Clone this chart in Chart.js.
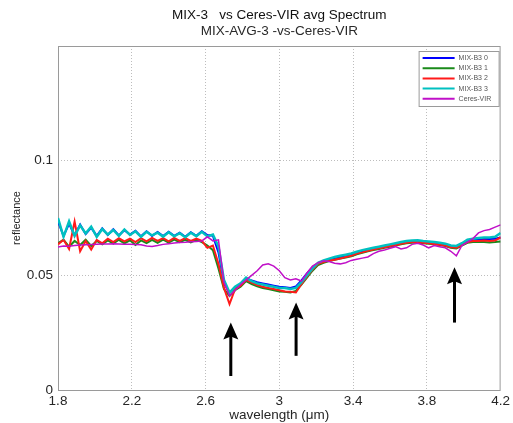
<!DOCTYPE html>
<html>
<head>
<meta charset="utf-8">
<script src="https://cdn.jsdelivr.net/npm/chart.js@4.4.0/dist/chart.umd.min.js"></script>
<style>
  body { margin: 0; background: #fff; }
  #wrap { width: 513px; height: 423px; }
</style>
</head>
<body>
<div id="wrap"><canvas id="spectrum" width="513" height="423"></canvas></div>
<script>
var wavelength = [
  1.80,1.83,1.86,1.89,1.92,1.95,1.98,2.01,2.04,2.07,
  2.10,2.13,2.16,2.19,2.22,2.25,2.28,2.31,2.34,2.37,
  2.40,2.43,2.46,2.49,2.52,2.55,2.58,2.61,2.64,2.67,
  2.70,2.73,2.76,2.79,2.82,2.85,2.88,2.91,2.94,2.97,
  3.00,3.03,3.06,3.09,3.12,3.15,3.18,3.21,3.24,3.27,
  3.30,3.33,3.36,3.39,3.42,3.45,3.48,3.51,3.54,3.57,
  3.60,3.63,3.66,3.69,3.72,3.75,3.78,3.81,3.84,3.87,
  3.90,3.93,3.96,3.99,4.02,4.05,4.08,4.11,4.14,4.17,
  4.20];

var mixB3_0 = [
  0.0735,0.0672,0.0725,0.0675,0.0721,0.0680,0.0708,0.0672,0.0705,0.0676,
  0.0701,0.0674,0.0697,0.0678,0.0694,0.0670,0.0692,0.0672,0.0689,0.0671,
  0.0690,0.0672,0.0686,0.0668,0.0688,0.0672,0.0692,0.0676,0.0672,0.0600,
  0.0465,0.0425,0.0445,0.0460,0.0485,0.0478,0.0470,0.0465,0.0460,0.0455,
  0.0450,0.0448,0.0445,0.0452,0.0478,0.0508,0.0535,0.0552,0.0562,0.0570,
  0.0576,0.0581,0.0586,0.0591,0.0598,0.0605,0.0610,0.0615,0.0620,0.0625,
  0.0630,0.0635,0.0640,0.0645,0.0647,0.0648,0.0645,0.0643,0.0640,0.0637,
  0.0633,0.0625,0.0623,0.0636,0.0650,0.0655,0.0657,0.0658,0.0658,0.0660,
  0.0665];

var mixB3_1 = [
  0.0640,0.0655,0.0625,0.0650,0.0632,0.0655,0.0628,0.0650,0.0635,0.0652,
  0.0638,0.0655,0.0640,0.0653,0.0632,0.0652,0.0640,0.0655,0.0642,0.0656,
  0.0643,0.0656,0.0645,0.0655,0.0644,0.0655,0.0645,0.0630,0.0610,0.0530,
  0.0440,0.0410,0.0435,0.0450,0.0475,0.0462,0.0452,0.0445,0.0440,0.0435,
  0.0430,0.0428,0.0425,0.0432,0.0460,0.0490,0.0520,0.0545,0.0555,0.0562,
  0.0568,0.0573,0.0578,0.0583,0.0592,0.0598,0.0605,0.0610,0.0615,0.0620,
  0.0625,0.0630,0.0635,0.0640,0.0642,0.0643,0.0640,0.0638,0.0635,0.0632,
  0.0628,0.0620,0.0617,0.0630,0.0642,0.0645,0.0645,0.0645,0.0643,0.0645,
  0.0648];

var mixB3_2 = [
  0.0635,0.0655,0.0615,0.0735,0.0605,0.0650,0.0612,0.0655,0.0640,0.0660,
  0.0645,0.0662,0.0648,0.0660,0.0645,0.0662,0.0648,0.0663,0.0650,0.0662,
  0.0648,0.0663,0.0650,0.0662,0.0650,0.0660,0.0650,0.0620,0.0630,0.0550,
  0.0445,0.0375,0.0440,0.0455,0.0480,0.0468,0.0458,0.0450,0.0445,0.0440,
  0.0435,0.0430,0.0428,0.0425,0.0462,0.0495,0.0525,0.0550,0.0558,0.0565,
  0.0568,0.0573,0.0580,0.0585,0.0595,0.0600,0.0607,0.0612,0.0618,0.0622,
  0.0628,0.0632,0.0638,0.0642,0.0645,0.0645,0.0642,0.0640,0.0637,0.0633,
  0.0630,0.0622,0.0620,0.0633,0.0645,0.0650,0.0650,0.0652,0.0650,0.0652,
  0.0665];

var mixB3_3 = [
  0.0750,0.0668,0.0735,0.0672,0.0718,0.0683,0.0712,0.0668,0.0702,0.0678,
  0.0698,0.0672,0.0700,0.0676,0.0692,0.0668,0.0690,0.0674,0.0686,0.0669,
  0.0688,0.0670,0.0684,0.0666,0.0686,0.0671,0.0690,0.0670,0.0678,0.0625,
  0.0480,0.0425,0.0450,0.0465,0.0490,0.0475,0.0465,0.0460,0.0455,0.0450,
  0.0445,0.0445,0.0440,0.0445,0.0470,0.0500,0.0530,0.0555,0.0565,0.0573,
  0.0580,0.0585,0.0590,0.0595,0.0603,0.0610,0.0615,0.0620,0.0625,0.0630,
  0.0635,0.0640,0.0645,0.0650,0.0652,0.0653,0.0650,0.0648,0.0645,0.0642,
  0.0638,0.0630,0.0628,0.0640,0.0655,0.0660,0.0663,0.0665,0.0665,0.0668,
  0.0685];

var ceresVIR = [
  0.0623,0.0628,0.0627,0.0630,0.0632,0.0633,0.0634,0.0636,0.0637,0.0637,
  0.0638,0.0637,0.0636,0.0635,0.0634,0.0633,0.0628,0.0626,0.0630,0.0635,
  0.0638,0.0641,0.0643,0.0644,0.0646,0.0648,0.0650,0.0668,0.0650,0.0655,
  0.0470,0.0410,0.0435,0.0460,0.0480,0.0500,0.0520,0.0545,0.0550,0.0540,
  0.0520,0.0490,0.0480,0.0485,0.0475,0.0510,0.0540,0.0555,0.0563,0.0560,
  0.0553,0.0550,0.0555,0.0565,0.0570,0.0575,0.0580,0.0595,0.0605,0.0610,
  0.0618,0.0625,0.0615,0.0620,0.0635,0.0640,0.0632,0.0620,0.0630,0.0625,
  0.0620,0.0605,0.0585,0.0630,0.0645,0.0660,0.0685,0.0695,0.0700,0.0710,
  0.0720];

// arrows marking the absorption bands (wavelength, tail and tip reflectance)
var arrowX    = [2.737, 3.091, 3.950];
var arrowTail = [0.0061, 0.0149, 0.0294];
var arrowTip  = [0.0294, 0.0382, 0.0535];

function pts(vals) {
  return wavelength.map(function (w, i) { return { x: w, y: vals[i] }; });
}

// box round the axes, like matlab
var boxPlugin = {
  id: 'axesBox',
  beforeDatasetsDraw: function (chart) {
    var a = chart.chartArea, c = chart.ctx;
    c.save();
    c.strokeStyle = '#9a9a9a';
    c.lineWidth = 1;
    c.strokeRect(a.left + 0.5, a.top + 0.5, a.right - a.left - 1, a.bottom - a.top);
    c.restore();
  }
};

var arrowPlugin = {
  id: 'arrows',
  afterDatasetsDraw: function (chart) {
    var c = chart.ctx, xs = chart.scales.x, ys = chart.scales.y;
    c.save();
    c.fillStyle = '#000';
    c.strokeStyle = '#000';
    for (var i = 0; i < arrowX.length; i++) {
      var px = xs.getPixelForValue(arrowX[i]);
      var y0 = ys.getPixelForValue(arrowTail[i]);
      var y1 = ys.getPixelForValue(arrowTip[i]);
      c.lineWidth = 3;
      c.beginPath();
      c.moveTo(px, y0);
      c.lineTo(px, y1 + 12);
      c.stroke();
      c.beginPath();
      c.moveTo(px, y1);
      c.lineTo(px - 7.5, y1 + 17);
      c.lineTo(px, y1 + 14);
      c.lineTo(px + 7.5, y1 + 17);
      c.closePath();
      c.fill();
    }
    c.restore();
  }
};

var legendPlugin = {
  id: 'insideLegend',
  afterDatasetsDraw: function (chart) {
    var c = chart.ctx, a = chart.chartArea;
    var sets = chart.data.datasets;
    var x0 = a.right - 82, y0 = a.top + 5, w = 80, h = 55;
    c.save();
    c.fillStyle = '#fff';
    c.fillRect(x0, y0, w, h);
    c.strokeStyle = '#9a9a9a';
    c.lineWidth = 1;
    c.strokeRect(x0 + 0.5, y0 + 0.5, w, h);
    c.font = '7px "Liberation Sans", Arial, sans-serif';
    c.textBaseline = 'middle';
    for (var i = 0; i < sets.length; i++) {
      var yy = y0 + 7 + i * 10.2;
      c.strokeStyle = sets[i].borderColor;
      c.lineWidth = 2;
      c.beginPath();
      c.moveTo(x0 + 4, yy);
      c.lineTo(x0 + 36, yy);
      c.stroke();
      c.fillStyle = '#555';
      c.fillText(sets[i].label, x0 + 40, yy);
    }
    c.restore();
  }
};

Chart.defaults.font.family = '"Liberation Sans", Arial, sans-serif';
Chart.defaults.color = '#262626';

var ctx = document.getElementById('spectrum');
var spectrumChart = new Chart(ctx, {
  type: 'line',
  data: {
    datasets: [
      { label: 'MIX-B3 0', data: pts(mixB3_0), borderColor: '#0000ff', borderWidth: 2, order: 5 },
      { label: 'MIX-B3 1', data: pts(mixB3_1), borderColor: '#1a8a1a', borderWidth: 2, order: 4 },
      { label: 'MIX-B3 2', data: pts(mixB3_2), borderColor: '#ff1a1a', borderWidth: 2, order: 3 },
      { label: 'MIX-B3 3', data: pts(mixB3_3), borderColor: '#00c0c0', borderWidth: 2.5, order: 2 },
      { label: 'Ceres-VIR', data: pts(ceresVIR), borderColor: '#c010c8', borderWidth: 1.5, order: 1 }
    ]
  },
  options: {
    responsive: false,
    animation: false,
    layout: { padding: { left: 0, right: 10, top: 4, bottom: 0 } },
    elements: { point: { radius: 0 }, line: { tension: 0, fill: false } },
    plugins: {
      legend: { display: false },
      tooltip: { enabled: false },
      title: {
        display: true,
        fullSize: false,
        text: 'MIX-3   vs Ceres-VIR avg Spectrum',
        color: '#111',
        font: { size: 13.5, weight: 'normal' },
        padding: { top: 3, bottom: 0 }
      },
      subtitle: {
        display: true,
        fullSize: false,
        text: 'MIX-AVG-3 -vs-Ceres-VIR',
        color: '#2a2a2a',
        font: { size: 13.5, weight: 'normal' },
        padding: { top: 0, bottom: 6.6 }
      }
    },
    scales: {
      x: {
        type: 'linear',
        min: 1.8,
        max: 4.2,
        ticks: {
          stepSize: 0.4,
          padding: 3,
          font: { size: 13.5 },
          maxRotation: 0,
          callback: function (v) { return String(+v.toFixed(2)); }
        },
        grid: {
          drawTicks: false,
          color: function (c) { return (c.index === 0 || c.index === 6) ? 'rgba(0,0,0,0)' : '#bdbdbd'; }
        },
        border: { display: false, dash: [1, 2] },
        title: { display: true, text: 'wavelength (μm)', font: { size: 13.5 }, padding: { top: 0, bottom: 0 } },
        afterFit: function (s) { s.height = 33; }
      },
      y: {
        min: 0,
        max: 0.15,
        ticks: {
          stepSize: 0.05,
          padding: 5,
          font: { size: 13.5 },
          callback: function (v) { return v > 0.14 ? '' : String(+v.toFixed(3)); }
        },
        grid: {
          drawTicks: false,
          color: function (c) { return (c.index === 0 || c.index === 3) ? 'rgba(0,0,0,0)' : '#bdbdbd'; }
        },
        border: { display: false, dash: [1, 2] },
        title: { display: true, text: 'reflectance', font: { size: 11 }, padding: { top: 10, bottom: 0 } },
        afterFit: function (s) { s.width = 58; }
      }
    }
  },
  plugins: [boxPlugin, arrowPlugin, legendPlugin]
});
</script>
</body>
</html>
